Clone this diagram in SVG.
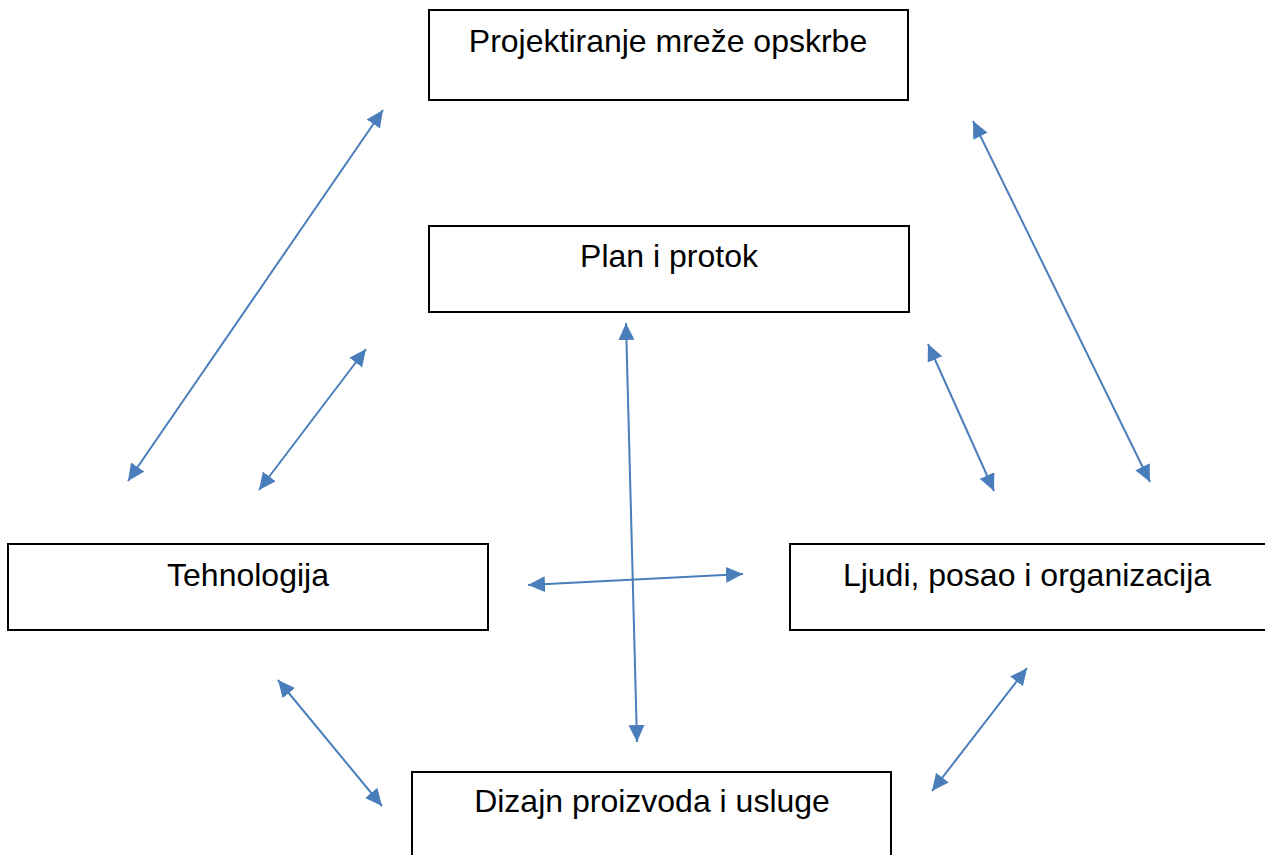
<svg xmlns="http://www.w3.org/2000/svg" width="1265" height="855" viewBox="0 0 1265 855">
<style>
.box{fill:#fff;stroke:#000;stroke-width:2}
.lbl{font-family:"Liberation Sans",Arial,sans-serif;font-size:32px;fill:#000;text-anchor:middle}
.con{stroke:#4a7ebb;stroke-width:2;fill:none;marker-start:url(#ah);marker-end:url(#ah)}
</style>
<defs>
<marker id="ah" markerUnits="userSpaceOnUse" markerWidth="20" markerHeight="18" refX="17" refY="8" orient="auto-start-reverse" viewBox="0 0 20 18">
<path d="M0,0 L17,8 L0,16 Z" fill="#4a7ebb"/>
</marker>
</defs>
<rect width="1265" height="855" fill="#fff"/>
<g id="n-projektiranje"><rect class="box" x="429" y="10" width="479" height="90"/><text class="lbl" x="668" y="52">Projektiranje mreže opskrbe</text></g>
<g id="n-plan"><rect class="box" x="429" y="226" width="480" height="86"/><text class="lbl" x="669" y="267">Plan i protok</text></g>
<g id="n-tehnologija"><rect class="box" x="8" y="544" width="480" height="86"/><text class="lbl" x="248" y="586">Tehnologija</text></g>
<g id="n-ljudi"><rect class="box" x="790" y="544" width="490" height="86"/><text class="lbl" x="1027" y="586">Ljudi, posao i organizacija</text></g>
<g id="n-dizajn"><rect class="box" x="412" y="772" width="479" height="95"/><text class="lbl" x="652" y="812">Dizajn proizvoda i usluge</text></g>
<g id="connectors">
<line class="con" x1="383" y1="110" x2="128" y2="481"/>
<line class="con" x1="366" y1="349" x2="259" y2="490"/>
<line class="con" x1="626" y1="323" x2="637" y2="742"/>
<line class="con" x1="528" y1="585" x2="743" y2="574"/>
<line class="con" x1="928" y1="344" x2="994" y2="491"/>
<line class="con" x1="973" y1="121" x2="1150" y2="482"/>
<line class="con" x1="278" y1="680" x2="382" y2="806"/>
<line class="con" x1="1027" y1="668" x2="932" y2="791"/>
</g>
</svg>
